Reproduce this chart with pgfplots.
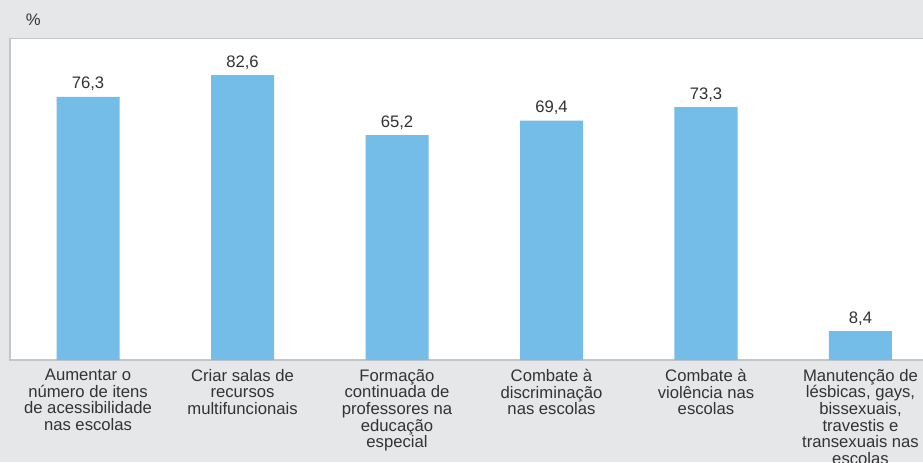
\documentclass[border=0pt]{standalone}
\usepackage{fontspec}
\setmainfont{Liberation Sans}
\usepackage{pgfplots}
\pgfplotsset{compat=1.18}

\definecolor{bgcol}{HTML}{E6E7E9}
\definecolor{framecol}{HTML}{C4C5C7}
\definecolor{barcol}{HTML}{74BDE8}
\definecolor{txtcol}{HTML}{333333}

\begin{document}
\begin{tikzpicture}
% page = 923 x 462 px, 1px = 0.75pt
\useasboundingbox (0pt,0pt) rectangle (692.25pt,346.5pt);
\fill[bgcol] (0pt,0pt) rectangle (692.25pt,346.5pt);
\node[font=\fontsize{12.5}{13}\selectfont, text=txtcol] at (25pt,331.5pt) {\%};

\begin{axis}[
    at={(7.5pt,76.5pt)}, anchor=south west,
    scale only axis,
    width=690pt, height=241.1pt,
    ybar, bar width=47.25pt,
    xmin=-0.505, xmax=5.45,
    ymin=0, ymax=93.2,
    axis background/.style={fill=white},
    axis line style={framecol, line width=1pt},
    ytick=\empty,
    xtick=data,
    xtick style={draw=none},
    xticklabels={
        {Aumentar o\\número de itens\\de acessibilidade\\nas escolas},
        {Criar salas de\\recursos\\multifuncionais},
        {Formação\\continuada de\\professores na\\educação\\especial},
        {Combate à\\discriminação\\nas escolas},
        {Combate à\\violência nas\\escolas},
        {Manutenção de\\lésbicas, gays,\\bissexuais,\\travestis e\\transexuais nas\\escolas}},
    xticklabel style={align=center, text=txtcol, anchor=north, yshift=1pt,
        font=\fontsize{12.5}{12.5}\selectfont},
    nodes near coords,
    nodes near coords style={anchor=base, yshift=6pt, text=txtcol,
        font=\fontsize{12.5}{13}\selectfont,
        /pgf/number format/.cd, use comma, fixed, fixed zerofill, precision=1,
        assume math mode=true},
    clip=false,
]
\addplot[fill=barcol, draw=none] coordinates {
    (0, 76.3)
    (1, 82.6)
    (2, 65.2)
    (3, 69.4)
    (4, 73.3)
    (5, 8.4)
};
\end{axis}
\end{tikzpicture}
\end{document}
